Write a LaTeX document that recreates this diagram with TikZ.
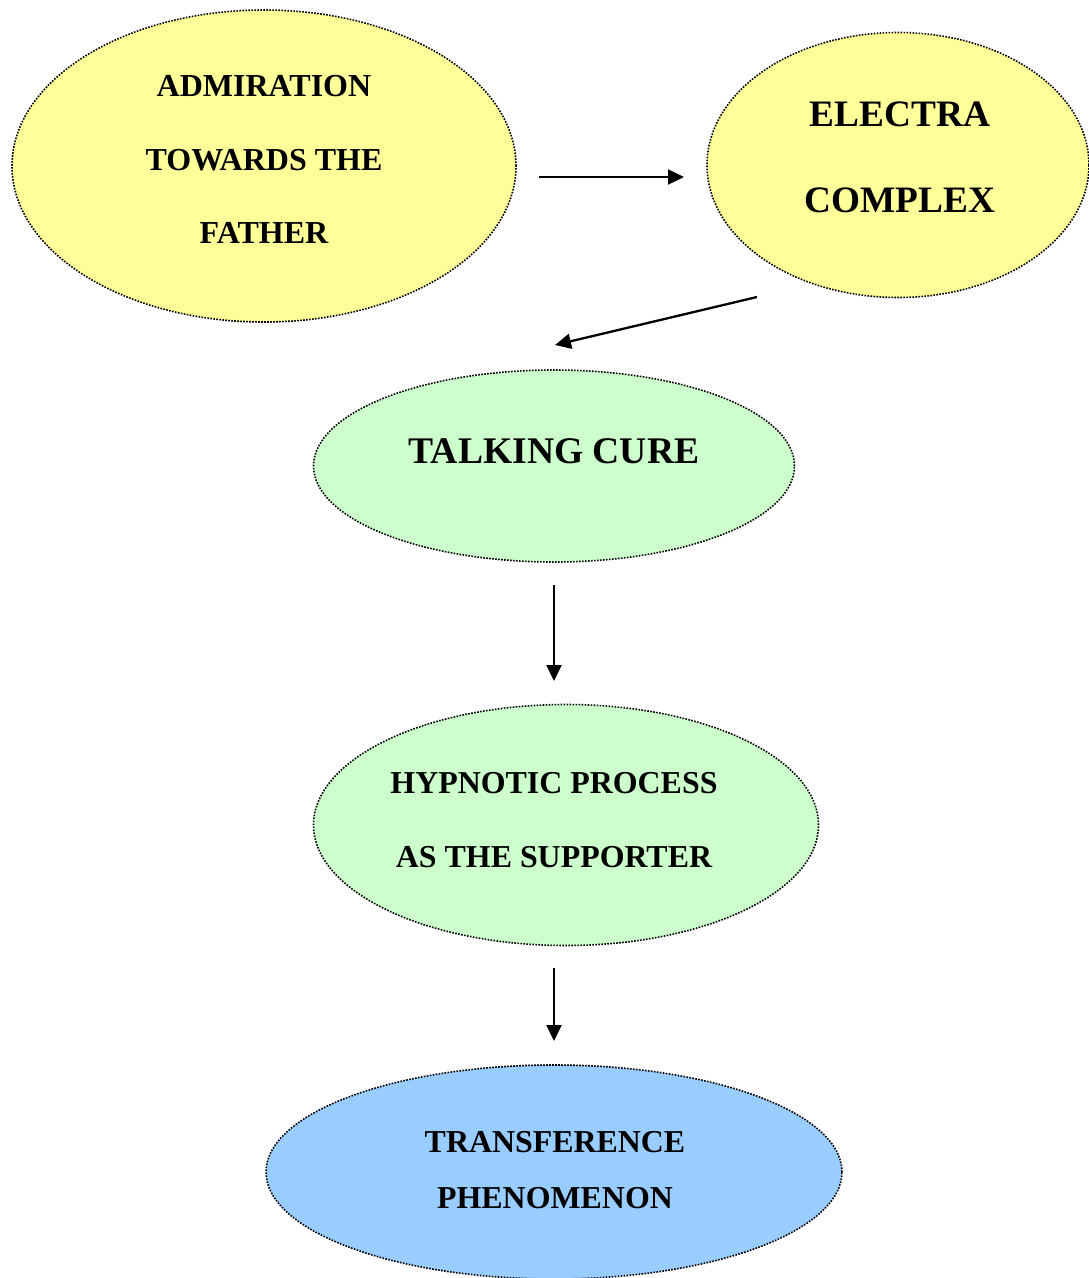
\documentclass[tikz,border=0pt]{standalone}
\usepackage{fontspec}
\setmainfont{Liberation Serif}
\usetikzlibrary{shapes.geometric,arrows.meta}
\definecolor{cyellow}{HTML}{FFFF99}
\definecolor{cgreen}{HTML}{CCFFCC}
\definecolor{cblue}{HTML}{99CCFF}
\tikzset{
  bubble/.style={ellipse, draw=black, line width=1.6pt, dash pattern=on 1.6pt off 1.4pt, inner sep=0pt},
  label/.style={inner sep=0pt, align=center, font=\bfseries},
  conn/.style={line width=2.3pt, -{Triangle[length=16pt,width=15pt]}}
}
\begin{document}
\begin{tikzpicture}[x=1pt,y=-1pt]
\useasboundingbox (0,0) rectangle (1089,1278);
\clip (0,0) rectangle (1089,1278);
\node[bubble, fill=cyellow, minimum width=504, minimum height=312] (adm) at (264,166) {};
\node[bubble, fill=cyellow, minimum width=382, minimum height=265] (ele) at (898,165) {};
\node[bubble, fill=cgreen, minimum width=481, minimum height=192] (tal) at (554,466) {};
\node[bubble, fill=cgreen, minimum width=505, minimum height=241] (hyp) at (566,825) {};
\node[bubble, fill=cblue, minimum width=576, minimum height=214] (tra) at (554,1172) {};

\node[label, font=\bfseries\fontsize{32}{73.5}\selectfont] (admt) at (264,159.7) {ADMIRATION\\TOWARDS THE\\FATHER};
\node[label, font=\bfseries\fontsize{37.3}{86}\selectfont] (elet) at (900,157) {ELECTRA\\COMPLEX};
\node[label, font=\bfseries\fontsize{37.6}{40}\selectfont] (talt) at (554,451) {TALKING CURE};
\node[label, font=\bfseries\fontsize{31.9}{74}\selectfont] (hypt) at (554,820) {HYPNOTIC PROCESS\\AS THE SUPPORTER};
\node[label, font=\bfseries\fontsize{31.9}{56}\selectfont] (trat) at (555,1170) {TRANSFERENCE\\PHENOMENON};

\coordinate (a1s) at (539,177);
\coordinate (a1e) at (684,177);
\coordinate (a2s) at (757,297);
\coordinate (a2e) at (555,345);
\coordinate (a3s) at (554,585);
\coordinate (a3e) at (554,681);
\coordinate (a4s) at (554,968);
\coordinate (a4e) at (554,1041);
\draw[conn] (a1s) -- (a1e);
\draw[conn] (a2s) -- (a2e);
\draw[conn] (a3s) -- (a3e);
\draw[conn] (a4s) -- (a4e);
\end{tikzpicture}
\end{document}
